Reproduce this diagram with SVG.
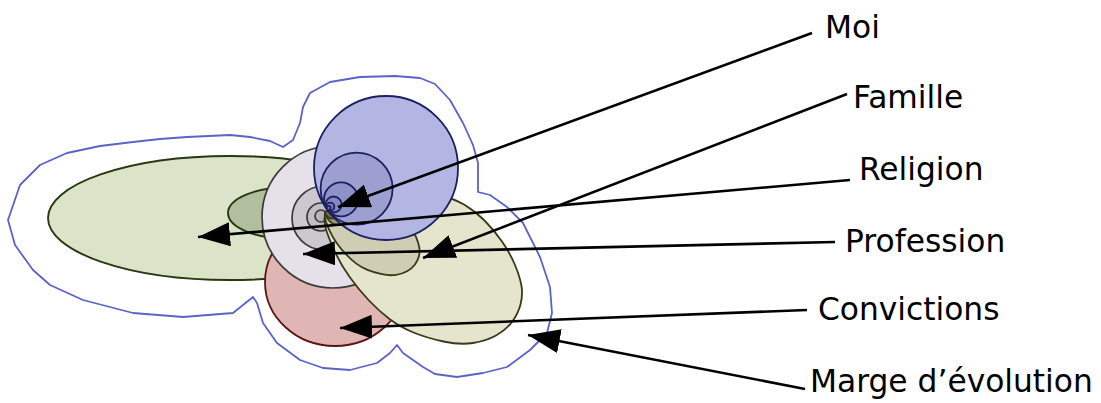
<svg xmlns="http://www.w3.org/2000/svg" xmlns:xlink="http://www.w3.org/1999/xlink" width="1101" height="403" viewBox="0 0 1101 403">
<style>
  .lbl { font-family: "DejaVu Sans", "Liberation Sans", sans-serif; font-size: 31.3px; fill: #000; }
  .edge { stroke: #000; stroke-width: 2.6; fill: none; marker-end: url(#ah); }
  .green { stroke: #2a3810; stroke-width: 1.9; }
  .red { stroke: #5c1515; stroke-width: 1.8; }
  .grey { stroke: #3a3a3a; stroke-width: 1.7; }
  .olive { stroke: #3a3a1a; stroke-width: 1.8; }
  .blue { stroke: #1b2060; stroke-width: 1.8; }
</style>
<defs>
  <marker id="ah" viewBox="0 0 32 24" refX="32" refY="12" markerWidth="32" markerHeight="24" markerUnits="userSpaceOnUse" orient="auto">
    <path d="M0,0 L32,12 L0,24 Z" fill="#000"/>
  </marker>
  <path id="egg" vector-effect="non-scaling-stroke" d="M324.5,218 Q325,212 345,203 Q365,194 390,192 Q415,190 434,194 Q453,198 464,204.5 Q475,211 484.5,220.5 Q494,230 502,241.5 Q510,253 515,265 Q520,277 521.5,286 Q523,295 520.5,304.5 Q518,314 512,322 Q506,330 496,335.5 Q486,341 473,343 Q460,345 443.5,341.5 Q427,338 413.5,332.5 Q400,327 389.5,319 Q379,311 369,300.5 Q359,290 350,277.5 Q341,265 335.5,253 Q330,241 327,232.5 Q324,224 324.5,218 Z"/>
</defs>
<rect width="1101" height="403" fill="#fff"/>

<g id="marge">
  <path d="M8,220 L20,185 L40,165 L67,153 L100,146 L133,142 L160,139 L187,137 L230,135 L250,137 L270,141 L283,147 L293,140 L300,123 L303,107 L310,93 L330,82 L360,77 L395,76 L420,78 L435,84 L450,100 L463,123 L473,145 L478,163 L478,192 L490,195 L507,207 L523,223 L540,257 L550,287 L552,313 L547,333 L530,350 L507,367 L483,373 L457,377 L435,374 L423,367 L403,353 L397,345 L390,353 L377,363 L350,370 L323,368 L300,360 L277,343 L263,323 L257,303 L253,297 L233,313 L183,317 L133,313 L83,300 L50,285 L33,270 L15,245 Z" fill="#fff" stroke="#5b63c8" stroke-width="1.8" stroke-linejoin="round"/>
  <text class="lbl" x="810" y="392">Marge d’évolution</text>
</g>

<g id="religion">
  <ellipse class="green" cx="230" cy="218" rx="182" ry="62" fill="#dbe3c8"/>
  <ellipse class="green" cx="290" cy="213" rx="62" ry="26" fill="#b2bf9f"/>
  <text class="lbl" x="859" y="180">Religion</text>
</g>

<g id="convictions">
  <ellipse class="red" cx="335" cy="282" rx="70" ry="64" fill="#dfb6b3"/>
  <text class="lbl" x="818" y="320">Convictions</text>
</g>

<g id="profession">
  <circle class="grey" cx="333" cy="217" r="71" fill="#e6e0e8"/>
  <circle class="grey" cx="324" cy="218" r="32" fill="#ccc8cf"/>
  <circle class="grey" cx="321" cy="217" r="14" fill="#c2bec6"/>
  <circle class="grey" cx="321" cy="216" r="6" fill="#b8b4bc"/>
  <text class="lbl" x="845" y="252">Profession</text>
</g>

<g id="famille">
  <use xlink:href="#egg" href="#egg" class="olive" fill="#e5e4cd"/>
  <use xlink:href="#egg" href="#egg" class="olive" fill="#cfceb5" transform="translate(325 212) scale(0.48) translate(-325 -212)"/>
  <use xlink:href="#egg" href="#egg" class="olive" fill="#9c9a70" transform="translate(325 212) scale(0.1) translate(-325 -212)"/>
  <use xlink:href="#egg" href="#egg" class="olive" fill="#6e6c48" transform="translate(325 212) scale(0.05) translate(-325 -212)"/>
  <text class="lbl" x="853" y="108">Famille</text>
</g>

<g id="moi">
  <circle class="blue" cx="386" cy="168" r="72" fill="#b3b5e2"/>
  <circle class="blue" cx="356.6" cy="188.6" r="36" fill="#9d9fd0"/>
  <circle class="blue" cx="341" cy="199.4" r="17" fill="#8f92c8"/>
  <circle class="blue" cx="333.6" cy="204.5" r="8" fill="#8487c0"/>
  <circle class="blue" cx="330.3" cy="206.7" r="4" fill="#7a7db8"/>
  <circle class="blue" cx="328.6" cy="207.9" r="2" fill="#7a7db8"/>
  <text class="lbl" x="825" y="38">Moi</text>
</g>

<g id="connectors">
  <path class="edge" d="M812,33 L338,207"/>
  <path class="edge" d="M847,94 L423,258"/>
  <path class="edge" d="M850,180 L198,237"/>
  <path class="edge" d="M835,242 L303,254"/>
  <path class="edge" d="M807,310 L340,328"/>
  <path class="edge" d="M805,389 L528,335"/>
</g>
</svg>
